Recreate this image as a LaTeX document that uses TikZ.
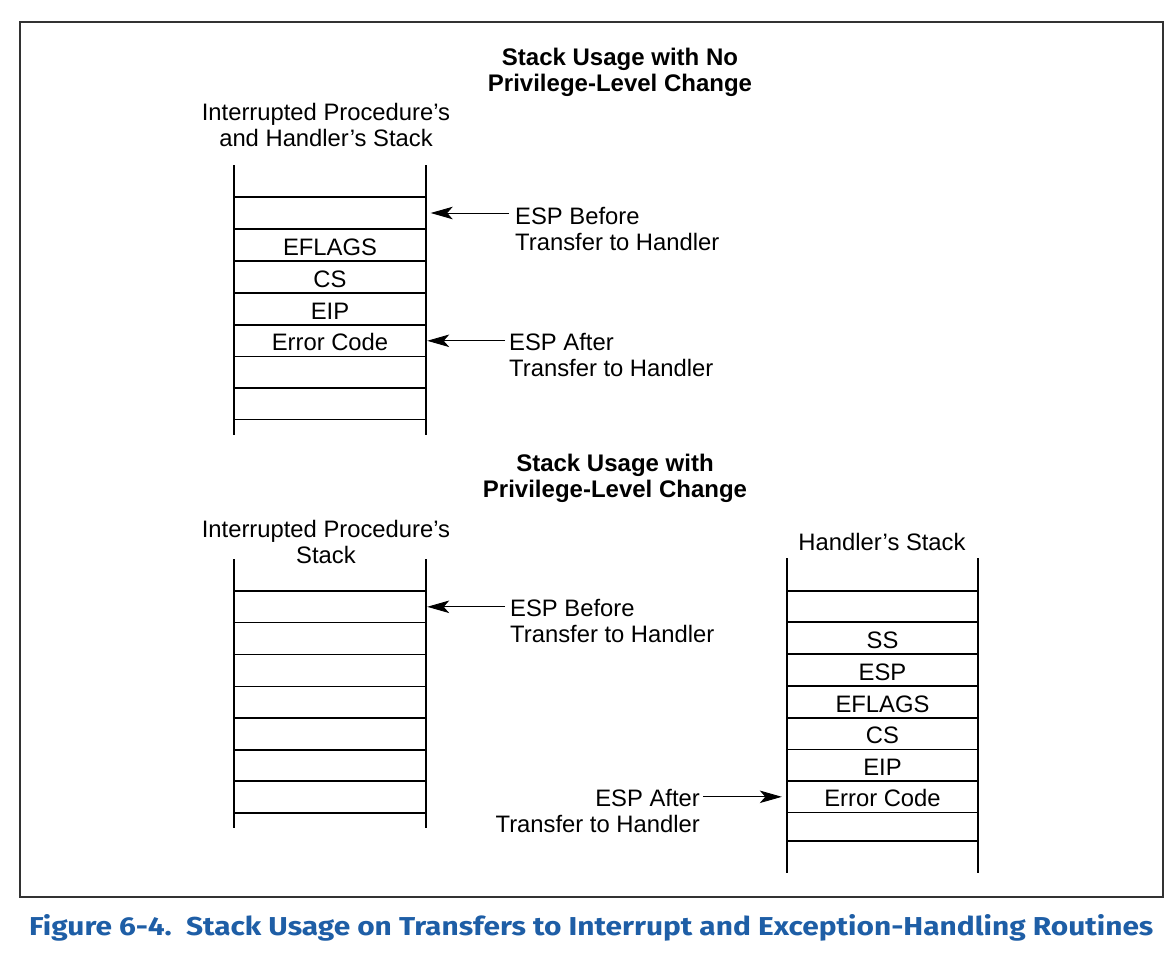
\documentclass[tikz,border=0pt]{standalone}
\usepackage{fontspec}
\setmainfont{Liberation Sans}
\newfontfamily\capfont{Fira Sans}
\usetikzlibrary{arrows.meta}
\definecolor{intelblue}{RGB}{30,94,166}
\definecolor{framegray}{RGB}{50,50,50}
\begin{document}
\begin{tikzpicture}[x=1pt,y=-1pt,
  lbl/.style={font=\fontsize{23.8}{26}\selectfont, inner sep=0pt},
  ttl/.style={font=\fontsize{24}{26}\selectfont\bfseries, inner sep=0pt, align=center, anchor=north},
  cell/.style={minimum width=192pt, minimum height=31.8pt, inner sep=0pt,
    font=\fontsize{23.8}{26}\selectfont, text height=20pt, text depth=0pt},
  stk/.style={line width=1.2pt, black},
  arr/.style={line width=0.9pt, -{Stealth[length=22pt,width=12.5pt,inset=5.5pt]}},
]
\useasboundingbox (0,0) rectangle (1174,956);
\fill[white] (0,0) rectangle (1174,956);
% frame
\draw[framegray, line width=2.5pt] (20,22) rectangle (1163,897);

% titles
\node[ttl] (t1) at (620,48) {Stack Usage with No\\Privilege-Level Change};
\node[ttl] (t2) at (615,454) {Stack Usage with\\Privilege-Level Change};

% stack headers
\node[lbl, align=center, anchor=north] (h1) at (326,103) {Interrupted Procedure’s\\and Handler’s Stack};
\node[lbl, align=center, anchor=north] (h2) at (326,520) {Interrupted Procedure’s\\Stack};
\node[lbl, align=center, anchor=north] (h3) at (882,533) {Handler’s Stack};

% stack 1
\draw[stk] (234,165) -- (234,435) (426,165) -- (426,435);
\foreach \y in {197,229,261,293,325,356.5,388,419.5} \draw[stk] (234,\y) -- (426,\y);
\node[cell] (s1b) at (330,213) {};
\node[cell] (s1f) at (330,245) {EFLAGS};
\node[cell] (s1c) at (330,277) {CS};
\node[cell] (s1e) at (330,309) {EIP};
\node[cell] (s1ec) at (330,340.8) {Error Code};

% stack 2
\draw[stk] (234,559) -- (234,828) (426,559) -- (426,828);
\foreach \y in {591,622.5,654.5,686.5,718,750,781,813} \draw[stk] (234,\y) -- (426,\y);
\node[cell] (s2b) at (330,606.8) {};

% stack 3
\draw[stk] (787,558) -- (787,873) (978,558) -- (978,873);
\foreach \y in {591,622,654,686,718,749.5,781,812.5,841} \draw[stk] (787,\y) -- (978,\y);
\node[cell, minimum width=191pt] (s3ss) at (882.5,638) {SS};
\node[cell, minimum width=191pt] (s3esp) at (882.5,670) {ESP};
\node[cell, minimum width=191pt] (s3f) at (882.5,702) {EFLAGS};
\node[cell, minimum width=191pt] (s3c) at (882.5,733.8) {CS};
\node[cell, minimum width=191pt] (s3e) at (882.5,765.3) {EIP};
\node[cell, minimum width=191pt] (s3ec) at (882.5,796.8) {Error Code};

% pointer labels
\node[lbl, align=left, anchor=north west] (b1) at (515,207) {ESP Before\\Transfer to Handler};
\node[lbl, align=left, anchor=north west] (a1) at (509,333) {ESP After\\Transfer to Handler};
\node[lbl, align=left, anchor=north west] (b2) at (510,599) {ESP Before\\Transfer to Handler};
\node[lbl, align=right, anchor=north east] (a3) at (700,789) {ESP After\\Transfer to Handler};

% arrows
\coordinate (b1s) at (509,213);
\coordinate (a1s) at (505,340.8);
\coordinate (b2s) at (505,606.8);
\coordinate (a3s) at (703,796.8);
\draw[arr, shorten >=4.5pt] (b1s) -- (s1b.east);
\draw[arr, shorten >=1pt] (a1s) -- (s1ec.east);
\draw[arr, shorten >=1pt] (b2s) -- (s2b.east);
\draw[arr, shorten >=5pt] (a3s) -- (s3ec.west);

% caption
\node[anchor=base west, inner sep=0pt, text=intelblue] (cap) at (29,935)
  {\resizebox{1124pt}{21pt}{\capfont\bfseries Figure 6-4.\ \ Stack Usage on Transfers to Interrupt and Exception-Handling Routines}};
\end{tikzpicture}
\end{document}
